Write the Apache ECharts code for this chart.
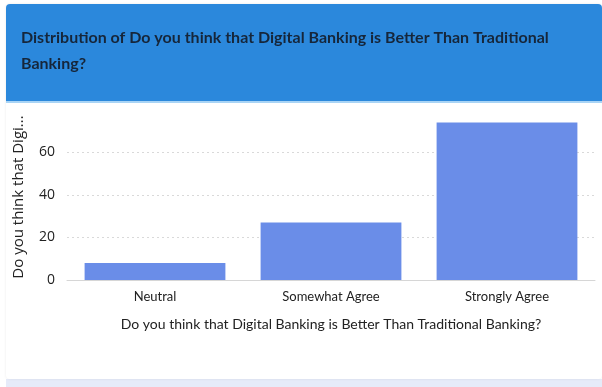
<!DOCTYPE html>
<html>
<head>
<meta charset="utf-8">
<script src="https://cdn.jsdelivr.net/npm/echarts@6/dist/echarts.min.js"></script>
<style>
html,body{margin:0;padding:0;background:#ffffff;}
#chart{width:602px;height:387px;}
</style>
</head>
<body>
<div id="chart"></div>
<script>
const categories = ["Neutral", "Somewhat Agree", "Strongly Agree"];
const counts = [8, 27, 74];
const yTicks = [0, 20, 40, 60];
const titleText = "Distribution of Do you think that Digital Banking is Better Than Traditional\nBanking?";
const xName = "Do you think that Digital Banking is Better Than Traditional Banking?";
const yName = "Do you think that Digi...";

const chart = echarts.init(document.getElementById('chart'), null, {renderer: 'canvas'});
chart.setOption({
  backgroundColor: '#ffffff',
  animation: false,
  graphic: [
    {type: 'rect', z: -10, shape: {x: 6, y: 379, width: 596, height: 8}, style: {fill: '#e6ebf9'}},
    {type: 'rect', z: -9, shape: {x: 6, y: 4, width: 596, height: 375, r: 4}, style: {fill: '#ffffff', shadowBlur: 3, shadowColor: 'rgba(0,0,0,0.08)'}},
    {type: 'rect', z: -8, shape: {x: 6, y: 4, width: 596, height: 97, r: [4, 4, 0, 0]}, style: {fill: '#2b88dc'}},
    {type: 'rect', z: -8, shape: {x: 6, y: 101, width: 596, height: 2}, style: {fill: '#a9d4f5'}}
  ],
  title: {
    text: titleText,
    left: 16,
    top: 20,
    textStyle: {fontFamily: 'Lato', fontWeight: 'bold', fontSize: 16, color: '#16263a', lineHeight: 26}
  },
  grid: {left: 67, right: 7, top: 114, bottom: 107},
  xAxis: {
    type: 'category',
    data: categories,
    name: xName,
    nameLocation: 'middle',
    nameGap: 37,
    nameTextStyle: {fontFamily: 'Lato', fontSize: 14, color: '#222'},
    axisLine: {show: true, lineStyle: {color: '#d6d6d6'}},
    axisTick: {show: false},
    axisLabel: {fontFamily: 'Lato', fontSize: 13, color: '#222', margin: 10}
  },
  yAxis: {
    type: 'value',
    min: 0,
    max: 78,
    interval: 20,
    name: yName,
    nameLocation: 'middle',
    nameGap: 41,
    nameTextStyle: {fontFamily: 'Open Sans', fontSize: 15, color: '#222'},
    axisLine: {show: false},
    axisTick: {show: false},
    axisLabel: {fontFamily: 'Open Sans', fontSize: 14, color: '#222', margin: 12, showMaxLabel: false,
      formatter: function (v) { return yTicks.indexOf(v) >= 0 ? String(v) : ''; }},
    splitLine: {show: true, showMaxLine: false, showMinLine: false, lineStyle: {color: '#d9d9d9', type: [2, 3]}}
  },
  series: [{
    type: 'bar',
    data: counts,
    barCategoryGap: '20%',
    itemStyle: {color: '#6a8de8'}
  }]
});
</script>
</body>
</html>
